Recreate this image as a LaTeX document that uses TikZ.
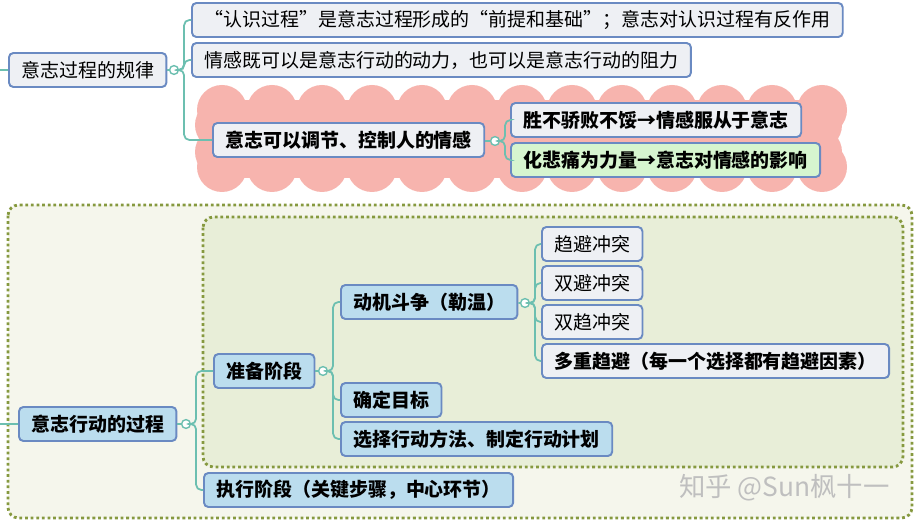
\documentclass[tikz,border=0pt]{standalone}
\usepackage{fontspec}
\setmainfont{Noto Sans CJK SC}
\usetikzlibrary{positioning}

\definecolor{edgeblue}{HTML}{6A8AC2}
\definecolor{boxgray}{HTML}{EEF0F4}
\definecolor{boxblue}{HTML}{BBDDEE}
\definecolor{boxgreen}{HTML}{D6F5CF}
\definecolor{linkteal}{HTML}{6CBFB0}
\definecolor{cloudpink}{HTML}{F7B4AE}
\definecolor{zoneedge}{HTML}{86993F}
\definecolor{zoneout}{HTML}{F5F6EC}
\definecolor{zonein}{HTML}{E8EED8}

\tikzset{
  box/.style={draw=edgeblue, line width=1.1pt, rounded corners=2.5pt, anchor=west,
    minimum height=0.68cm, inner xsep=7pt, fill=boxgray,
    font=\fontsize{10.8}{13}\selectfont},
  boldbox/.style={box, font=\fontsize{10.8}{13}\selectfont\bfseries},
  bluebox/.style={boldbox, fill=boxblue},
  knot/.style={circle, draw=linkteal, fill=white, inner sep=0pt, minimum size=5pt, line width=0.8pt},
  link/.style={draw=linkteal, line width=1pt, rounded corners=3pt},
  zone/.style={draw=zoneedge, line width=1.6pt, dash pattern=on 1.6pt off 1.6pt, rounded corners=6pt},
}

\begin{document}
\begin{tikzpicture}[x=0.02cm, y=-0.02cm]
  \useasboundingbox (0,0) rectangle (920,523);
  \fill[white] (0,0) rectangle (920,523);

  % cloud behind the emotion branch
  \fill[cloudpink] (210,100) rectangle (828,178);
  \foreach \cx in {222,272,...,822} {
    \fill[cloudpink] (\cx,110) circle (25);
    \fill[cloudpink] (\cx,167) circle (25);
  }
  \foreach \cy in {125,152} {
    \fill[cloudpink] (220,\cy) circle (25);
    \fill[cloudpink] (817,\cy) circle (25);
  }

  % dotted zones
  \draw[zone, fill=zoneout] (8,205) rectangle (912,518);
  \draw[zone, fill=zonein] (203,217) rectangle (903,467);

  % upper branch
  \coordinate (s1) at (0,70);
  \node[box] (law) at (8,70) {意志过程的规律};
  \node[knot] (k1) at (174,70) {};
  \node[box] (cog) at (191,20) {“认识过程”是意志过程形成的“前提和基础”；意志对认识过程有反作用};
  \node[box] (emo) at (191,60) {情感既可以是意志行动的动力，也可以是意志行动的阻力};
  \node[boldbox] (ctrl) at (212,140) {意志可以调节、控制人的情感};
  \node[knot] (k2) at (495,141) {};
  \node[boldbox] (obey) at (510,120) {胜不骄败不馁→情感服从于意志};
  \node[boldbox, fill=boxgreen] (grief) at (510,160) {化悲痛为力量→意志对情感的影响};

  \draw[link] (s1) -- (law);
  \draw[link] (law) -- (k1);
  \foreach \c in {cog,emo,ctrl}
    \draw[link] (k1.east) -- ++(5,0) |- (\c.west);
  \draw[link] (ctrl) -- (k2);
  \foreach \c in {obey,grief}
    \draw[link] (k2.east) -- ++(5,0) |- (\c.west);

  % lower branch
  \coordinate (s2) at (0,424);
  \node[bluebox] (proc) at (18,424) {意志行动的过程};
  \node[knot] (k3) at (186,424) {};
  \node[bluebox] (prep) at (213,371) {准备阶段};
  \node[bluebox] (exec) at (203,490) {执行阶段（关键步骤，中心环节）};
  \node[knot] (k4) at (323,371) {};
  \node[bluebox] (motive) at (340,302) {动机斗争（勒温）};
  \node[bluebox] (goal) at (340,400) {确定目标};
  \node[bluebox] (plan) at (340,439) {选择行动方法、制定行动计划};
  \node[knot] (k5) at (525,303) {};
  \node[box] (appav) at (541,244) {趋避冲突};
  \node[box] (avav) at (541,283) {双避冲突};
  \node[box] (apap) at (541,322) {双趋冲突};
  \node[boldbox] (multi) at (541,361) {多重趋避（每一个选择都有趋避因素）};

  \draw[link] (s2) -- (proc);
  \draw[link] (proc) -- (k3);
  \foreach \c in {prep,exec}
    \draw[link] (k3.east) -- ++(5,0) |- (\c.west);
  \draw[link] (prep) -- (k4);
  \foreach \c in {motive,goal,plan}
    \draw[link] (k4.east) -- ++(5,0) |- (\c.west);
  \draw[link] (motive) -- (k5);
  \foreach \c in {appav,avav,apap,multi}
    \draw[link] (k5.east) -- ++(5,0) |- (\c.west);

  \node[anchor=west, text=black!25, font=\fontsize{15}{18}\selectfont] (mark) at (673,488) {知乎 @Sun枫十一};
\end{tikzpicture}
\end{document}
